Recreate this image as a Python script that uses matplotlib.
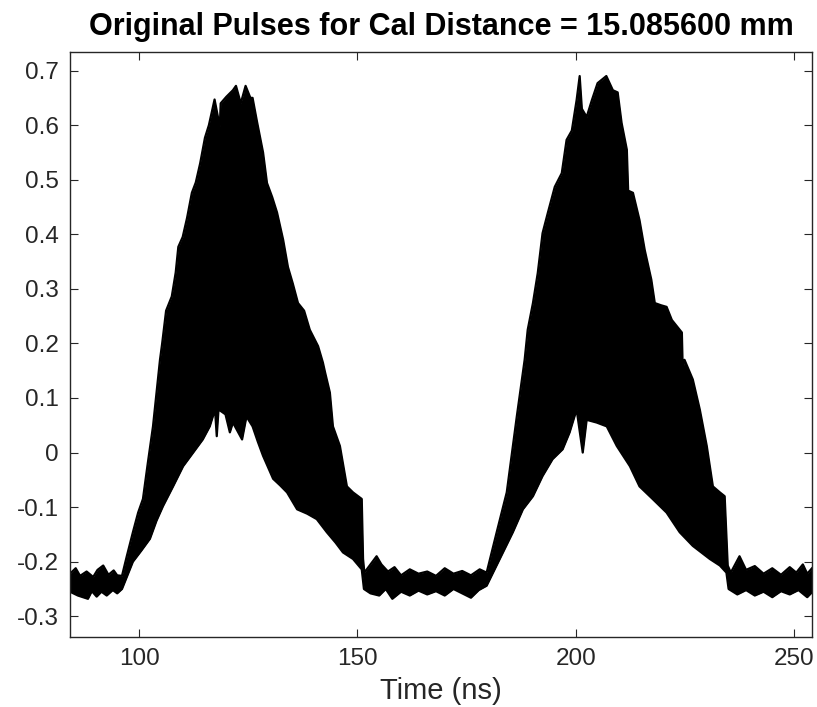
import matplotlib
matplotlib.use("Agg")
import matplotlib.pyplot as plt
import numpy as np

plt.rcParams['font.family'] = ['Liberation Sans', 'DejaVu Sans']

# envelope of the oscillating signal (time in ns, volts)
t_upper = [84.2, 85.5, 86.5, 88, 89.5, 90.5, 91.8, 93, 94.2, 95, 96.1, 97.2, 98.6, 99.8,
           100.9, 102, 103.2, 104.8, 105.3, 106.2, 107.5, 108.4, 109, 110, 111, 112.1,
           113, 114, 115.1, 116, 117.3, 118.5, 118.7, 120, 121.5, 122.2, 123.3, 124.4,
           125.5, 126, 127, 128.4, 129.3, 130.5, 131.6, 133, 134.1, 135.2, 136.4, 137.8,
           139.1, 141, 142.1, 142.6, 143.7, 144.4, 146, 147.6, 149, 151, 151.3, 151.6,
           153, 154.4, 155.5, 157, 158.5, 160, 162, 164, 166, 168, 170, 172, 174, 176,
           178, 179.6, 181.9, 184.2, 186.5, 188.3, 189, 190.2, 191.3, 192.4, 193.6,
           195.2, 196.8, 197.9, 199.1, 200.2, 200.9, 201.4, 202.5, 203.7, 205, 207,
           208.5, 209.6, 210.5, 211.7, 212, 213.1, 214.6, 215.8, 217.3, 218.1, 219.5,
           220.8, 222, 224.3, 224.5, 224.9, 226.8, 228.4, 230, 231.4, 233, 234.1, 234.8,
           235.5, 237.5, 239, 241, 243, 245, 247, 249, 250.5, 252, 253, 254.1]
v_upper = [-0.222, -0.212, -0.226, -0.218, -0.228, -0.215, -0.207, -0.224, -0.216, -0.225,
           -0.226, -0.19, -0.146, -0.11, -0.085, -0.02, 0.048, 0.17, 0.20, 0.26, 0.286,
           0.33, 0.377, 0.395, 0.43, 0.476, 0.495, 0.53, 0.577, 0.6, 0.647, 0.597, 0.64,
           0.652, 0.664, 0.672, 0.64, 0.672, 0.65, 0.65, 0.607, 0.55, 0.494, 0.468, 0.44,
           0.39, 0.34, 0.31, 0.274, 0.26, 0.225, 0.195, 0.165, 0.147, 0.11, 0.048, 0.012,
           -0.062, -0.073, -0.085, -0.195, -0.22, -0.205, -0.19, -0.205, -0.218, -0.21,
           -0.225, -0.214, -0.222, -0.218, -0.226, -0.212, -0.222, -0.217, -0.225, -0.214,
           -0.22, -0.146, -0.073, 0.066, 0.17, 0.225, 0.274, 0.329, 0.402, 0.439, 0.487,
           0.512, 0.573, 0.59, 0.646, 0.69, 0.63, 0.615, 0.646, 0.677, 0.69, 0.664, 0.66,
           0.604, 0.555, 0.48, 0.476, 0.426, 0.371, 0.317, 0.274, 0.27, 0.267, 0.243,
           0.22, 0.152, 0.17, 0.134, 0.079, 0.012, -0.062, -0.073, -0.08, -0.207, -0.22,
           -0.19, -0.215, -0.208, -0.222, -0.212, -0.224, -0.21, -0.22, -0.205, -0.222,
           -0.212]

t_lower = [84.2, 86, 88.3, 89.2, 90.3, 91.4, 92.6, 94, 95, 96.1, 97.2, 98.6, 100.5, 102.5,
           104, 105.5, 107.8, 110.1, 112.4, 114.6, 116.2, 117.4, 117.8, 118.2, 119.8,
           120.8, 121.5, 123.6, 124.6, 126, 127.2, 128.4, 130.7, 132.3, 133.9, 136.2,
           138.5, 140.7, 143, 145, 146.7, 149, 151, 151.5, 153, 155, 156.5, 158, 160,
           162, 164, 166, 168, 170, 172, 174, 176, 177.8, 179.6, 182.6, 185.6, 187.9,
           190.2, 192.4, 194.7, 197, 198.6, 200.2, 201.6, 202.5, 204.8, 207.1, 209.4,
           212.4, 214.6, 217.6, 220.8, 223.8, 226.8, 230.7, 233, 234.5, 235, 237, 239,
           241, 243, 245, 247, 249, 251, 253, 254.1]
v_lower = [-0.255, -0.262, -0.268, -0.254, -0.264, -0.255, -0.262, -0.252, -0.258, -0.25,
           -0.228, -0.2, -0.18, -0.158, -0.125, -0.098, -0.062, -0.025, 0.0, 0.024, 0.048,
           0.079, 0.03, 0.079, 0.07, 0.037, 0.055, 0.024, 0.066, 0.048, 0.02, -0.006,
           -0.048, -0.06, -0.073, -0.104, -0.112, -0.122, -0.146, -0.165, -0.183, -0.195,
           -0.214, -0.25, -0.258, -0.262, -0.25, -0.268, -0.255, -0.262, -0.253, -0.26,
           -0.254, -0.262, -0.25, -0.258, -0.266, -0.252, -0.244, -0.195, -0.146, -0.104,
           -0.08, -0.043, -0.012, 0.006, 0.037, 0.079, 0.0, 0.06, 0.055, 0.048, 0.012,
           -0.025, -0.062, -0.085, -0.11, -0.146, -0.171, -0.195, -0.207, -0.22, -0.25,
           -0.26, -0.252, -0.262, -0.255, -0.265, -0.254, -0.26, -0.252, -0.265, -0.256]

tick_x = [100, 150, 200, 250]
tick_y = [-0.3, -0.2, -0.1, 0, 0.1, 0.2, 0.3, 0.4, 0.5, 0.6, 0.7]

fig = plt.figure(figsize=(8.17, 7.07), dpi=100)
ax = fig.add_axes([0.0857, 0.099, 0.9082, 0.8274])

# common time grid so the two edges can be filled
t_all = np.union1d(t_upper, t_lower)
up = np.interp(t_all, t_upper, v_upper)
lo = np.interp(t_all, t_lower, v_lower)
ax.fill_between(t_all, lo, up, color='black', lw=0)
ax.plot(t_upper, v_upper, color='black', lw=1.6)
ax.plot(t_lower, v_lower, color='black', lw=1.6)

ax.set_xlim(84.2, 254.1)
ax.set_ylim(-0.338, 0.734)
ax.set_xticks(tick_x)
ax.set_yticks(tick_y)
ax.set_yticklabels([f"{v:g}" for v in tick_y])

edge = '#262626'
for s in ax.spines.values():
    s.set_color(edge)
    s.set_linewidth(1.0)
ax.tick_params(direction='in', top=True, right=True, length=6, width=0.8,
               colors=edge, labelsize=17.5, pad=8)

ax.set_xlabel("Time (ns)", fontsize=21, color=edge, labelpad=5)
ax.set_title("Original Pulses for Cal Distance = 15.085600 mm", fontsize=22,
             fontweight='bold', pad=12)

fig.savefig("out.png", dpi=100)
